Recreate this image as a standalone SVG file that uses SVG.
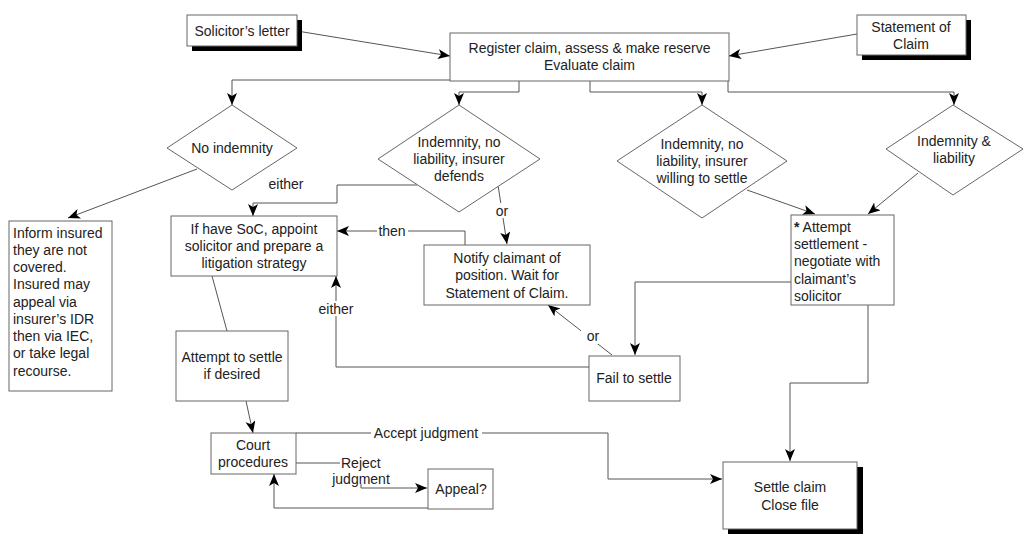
<svg xmlns="http://www.w3.org/2000/svg" width="1031" height="551" viewBox="0 0 1031 551">
<style>
.box{fill:#fff;stroke:#666;stroke-width:1}
.sh{fill:#000}
.ln{fill:none;stroke:#555;stroke-width:1}
.arr{fill:none;stroke:#555;stroke-width:1;marker-end:url(#ah)}
text{font-family:"Liberation Sans",Arial,sans-serif;font-size:14px;fill:#222}
.c{text-anchor:middle}
.bg{fill:#fff}
</style>
<defs>
<marker id="ah" markerUnits="userSpaceOnUse" markerWidth="14" markerHeight="12" refX="12" refY="5" orient="auto">
<path d="M0,0 L12,5 L0,10 L3,5 Z" fill="#000"/>
</marker>
</defs>
<rect width="1031" height="551" fill="#fff"/>

<g id="connectors">
<path class="arr" d="M297,31 L450,56"/>
<path class="arr" d="M857,34 L729,56"/>
<path class="arr" d="M450,80 L232,80 L232,105"/>
<path class="arr" d="M519,81 L519,92 L459,92 L459,105"/>
<path class="arr" d="M590,81 L590,92 L702,92 L702,105"/>
<path class="arr" d="M728,81 L728,92 L954,92 L954,105"/>
<path class="arr" d="M197,169 L68,218"/>
<path class="arr" d="M417,185 L337,185 L337,203 L253,203 L253,216"/>
<path class="arr" d="M498,185 L507,244"/>
<path class="arr" d="M465,245 L465,231 L337,231"/>
<path class="arr" d="M589,367 L336,367 L336,276"/>
<path class="arr" d="M612,355 L548,305"/>
<path class="arr" d="M747,190 L815,214"/>
<path class="arr" d="M918,173 L868,214"/>
<path class="arr" d="M791,282 L635,282 L635,355"/>
<path class="arr" d="M868,305 L868,383 L790,383 L790,461"/>
<path class="ln" d="M212,276 L227,331"/>
<path class="arr" d="M246,401 L253,433"/>
<path class="arr" d="M296,433 L608,433 L608,479 L722,479"/>
<path class="ln" d="M296,463 L340,463"/>
<path class="arr" d="M361,484 L361,488 L427,488"/>
<path class="arr" d="M428,508 L274,508 L274,474"/>
<rect class="bg" x="490" y="203" width="24" height="15"/>
<text class="c" x="502" y="216">or</text>
<text class="c" x="286" y="189">either</text>
<rect class="bg" x="377" y="224" width="31" height="14"/>
<text class="c" x="392" y="236">then</text>
<rect class="bg" x="315" y="301" width="42" height="15"/>
<text class="c" x="336" y="314">either</text>
<rect class="bg" x="581" y="328" width="24" height="16"/>
<text class="c" x="593" y="341">or</text>
<rect class="bg" x="371" y="425" width="111" height="15"/>
<text class="c" x="426" y="438">Accept judgment</text>
<text x="341" y="468">Reject</text>
<text class="c" x="361" y="484">judgment</text>
</g>

<g id="solicitor-letter">
<rect class="sh" x="192" y="20" width="110" height="31"/>
<rect class="box" x="187" y="15" width="110" height="31"/>
<text class="c" x="242" y="36">Solicitor’s letter</text>
</g>

<g id="register-claim">
<rect class="box" x="450" y="33" width="279" height="48"/>
<text class="c" x="589.5" y="53">Register claim, assess &amp; make reserve</text>
<text class="c" x="589.5" y="70">Evaluate claim</text>
</g>

<g id="statement-of-claim">
<rect class="sh" x="862" y="20" width="109" height="40"/>
<rect class="box" x="857" y="15" width="109" height="40"/>
<text class="c" x="911" y="32">Statement of</text>
<text class="c" x="911" y="49">Claim</text>
</g>

<g id="no-indemnity">
<polygon class="box" points="232,105 297,148 232,190 167,148"/>
<text class="c" x="232" y="153">No indemnity</text>
</g>

<g id="insurer-defends">
<polygon class="box" points="459,105 540,159 459,212 378,159"/>
<text class="c" x="459" y="147">Indemnity, no</text>
<text class="c" x="459" y="164">liability, insurer</text>
<text class="c" x="459" y="181">defends</text>
</g>

<g id="insurer-willing">
<polygon class="box" points="702,105 787,161 702,218 617,161"/>
<text class="c" x="702" y="149">Indemnity, no</text>
<text class="c" x="702" y="166">liability, insurer</text>
<text class="c" x="702" y="183">willing to settle</text>
</g>

<g id="indemnity-liability">
<polygon class="box" points="953,105 1023,149 953,195 886,149"/>
<text class="c" x="954" y="146">Indemnity &amp;</text>
<text class="c" x="954" y="163">liability</text>
</g>

<g id="inform-insured">
<rect class="box" x="9" y="221" width="103" height="170"/>
<text x="13" y="238">Inform insured</text>
<text x="13" y="255">they are not</text>
<text x="13" y="272">covered.</text>
<text x="13" y="289">Insured may</text>
<text x="13" y="307">appeal via</text>
<text x="13" y="324">insurer’s IDR</text>
<text x="13" y="341">then via IEC,</text>
<text x="13" y="358">or take legal</text>
<text x="13" y="376">recourse.</text>
</g>

<g id="appoint-solicitor">
<rect class="box" x="171" y="216" width="166" height="60"/>
<text class="c" x="254" y="234">If have SoC, appoint</text>
<text class="c" x="254" y="251">solicitor and prepare a</text>
<text class="c" x="254" y="268">litigation strategy</text>
</g>

<g id="notify-claimant">
<rect class="box" x="424" y="245" width="166" height="60"/>
<text class="c" x="507" y="263">Notify claimant of</text>
<text class="c" x="507" y="280">position. Wait for</text>
<text class="c" x="507" y="298">Statement of Claim.</text>
</g>

<g id="attempt-settlement">
<rect class="box" x="791" y="215" width="103" height="90"/>
<text x="794" y="232"><tspan font-weight="bold">*</tspan> Attempt</text>
<text x="794" y="249">settlement -</text>
<text x="794" y="266">negotiate with</text>
<text x="794" y="284">claimant’s</text>
<text x="794" y="301">solicitor</text>
</g>

<g id="fail-to-settle">
<rect class="box" x="589" y="356" width="91" height="45"/>
<text class="c" x="634" y="383">Fail to settle</text>
</g>

<g id="attempt-to-settle">
<rect class="box" x="176" y="331" width="112" height="70"/>
<text class="c" x="232" y="362">Attempt to settle</text>
<text class="c" x="232" y="379">if desired</text>
</g>

<g id="court-procedures">
<rect class="box" x="211" y="433" width="85" height="41"/>
<text class="c" x="253" y="450">Court</text>
<text class="c" x="253" y="467">procedures</text>
</g>

<g id="appeal">
<rect class="box" x="428" y="469" width="65" height="40"/>
<text class="c" x="461" y="494">Appeal?</text>
</g>

<g id="settle-claim">
<rect class="sh" x="728" y="467" width="135" height="67"/>
<rect class="box" x="723" y="462" width="134" height="67"/>
<text class="c" x="790" y="492">Settle claim</text>
<text class="c" x="790" y="510">Close file</text>
</g>
</svg>
